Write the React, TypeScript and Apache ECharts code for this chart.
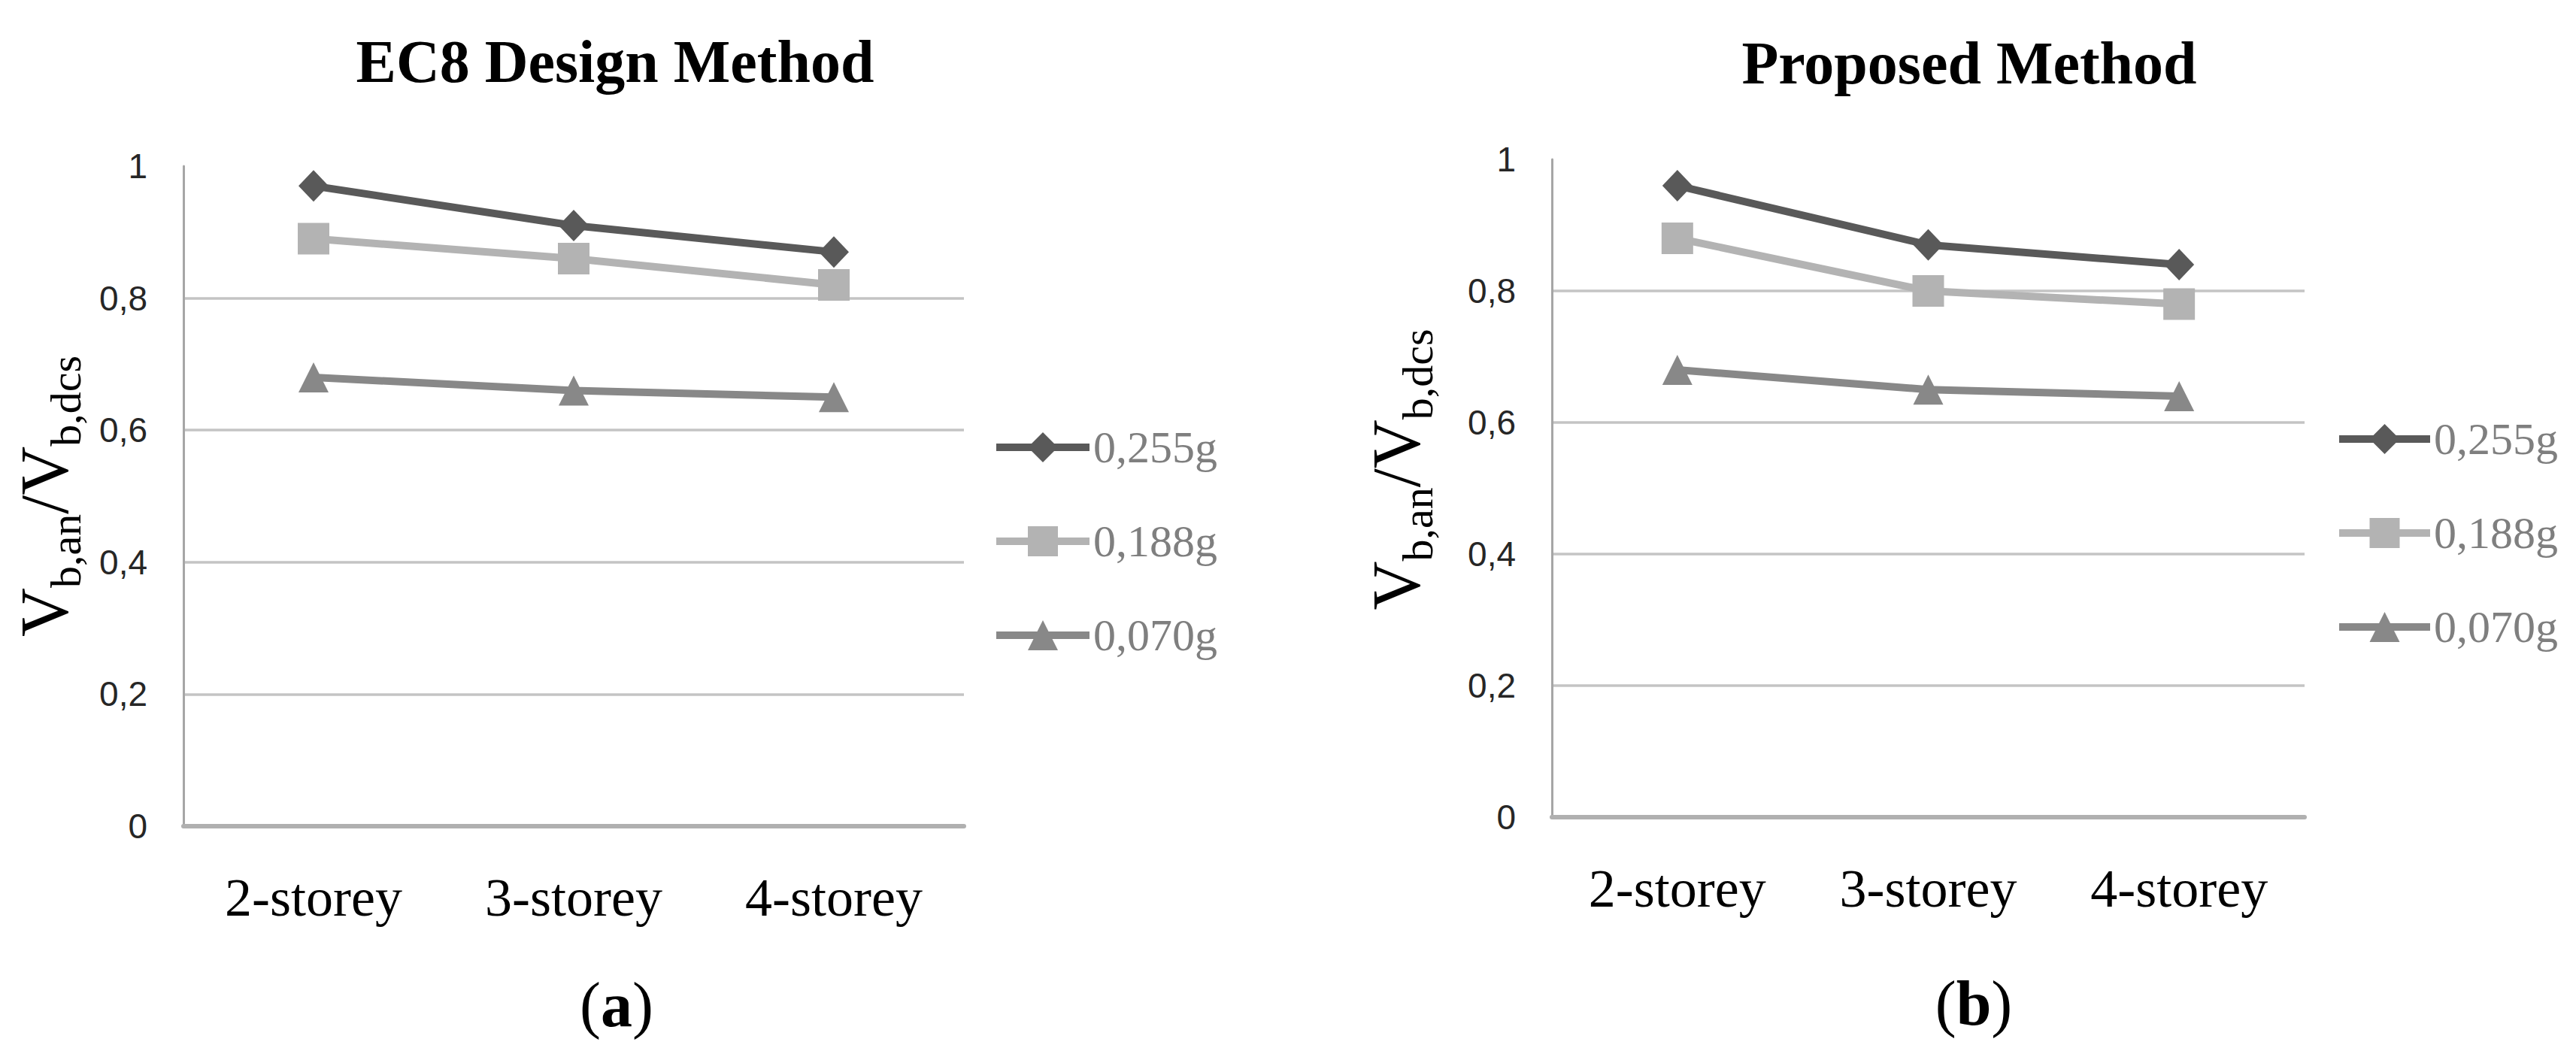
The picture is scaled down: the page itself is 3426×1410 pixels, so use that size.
import React, { useEffect, useRef } from 'react';
import * as echarts from 'echarts';

const categories = ['2-storey', '3-storey', '4-storey'];
const seriesNames = ['0,255g', '0,188g', '0,070g'];
const ec8_255 = [0.97, 0.91, 0.87];
const ec8_188 = [0.89, 0.86, 0.82];
const ec8_070 = [0.68, 0.66, 0.65];
const prop_255 = [0.96, 0.87, 0.84];
const prop_188 = [0.88, 0.8, 0.78];
const prop_070 = [0.68, 0.65, 0.64];
const yTickValues = [0, 0.2, 0.4, 0.6, 0.8, 1];
const yTickLabels = ['0', '0,2', '0,4', '0,6', '0,8', '1'];
const panelTitles = ['EC8 Design Method', 'Proposed Method'];
const panelTags = ['a', 'b'];

const colors = ['#595959', '#b3b3b3', '#888888'];
const symbols = ['diamond', 'rect', 'triangle'];
const symbolSizes: any[] = [[40, 42], 42, [40, 40]];

const fmtTick = (v: number) => {
  const i = yTickValues.findIndex((t) => Math.abs(t - v) < 1e-6);
  return i >= 0 ? yTickLabels[i] : String(v);
};

const nameRich = {
  v: { fontSize: 90, fontFamily: 'Liberation Serif', color: '#000', verticalAlign: 'bottom', padding: [0, 0, 12, 0] },
  s: { fontSize: 58, fontFamily: 'Liberation Serif', color: '#000', verticalAlign: 'bottom' },
};

function makeX(gi: number) {
  return {
    type: 'category',
    gridIndex: gi,
    data: categories,
    boundaryGap: true,
    axisLine: { show: true, lineStyle: { color: '#b0b0b0', width: 6 } },
    axisTick: { show: false },
    splitLine: { show: false },
    axisLabel: { fontFamily: 'Liberation Serif', fontSize: 72, color: '#000', margin: 59 },
  };
}

function makeY(gi: number, gap: number, pad: number[]) {
  return {
    type: 'value',
    gridIndex: gi,
    min: 0,
    max: 1,
    interval: 0.2,
    axisLine: { show: true, lineStyle: { color: '#a6a6a6', width: 3 } },
    axisTick: { show: false },
    splitLine: { show: true, showMaxLine: false, lineStyle: { color: '#c4c4c4', width: 3.5 } },
    axisLabel: { fontFamily: 'Liberation Sans', fontSize: 46, color: '#262626', margin: 48, formatter: fmtTick },
    name: '{v|V}{s|b,an}{v|/V}{s|b,dcs}',
    nameLocation: 'middle',
    nameRotate: 90,
    nameGap: gap,
    nameTextStyle: { rich: nameRich, padding: pad },
  };
}

function makeSeries(gi: number, values: number[][]) {
  return values.map((vals, k) => ({
    type: 'line',
    name: seriesNames[k],
    xAxisIndex: gi,
    yAxisIndex: gi,
    data: vals,
    symbol: symbols[k],
    symbolSize: symbolSizes[k],
    showAllSymbol: true,
    lineStyle: { color: colors[k], width: 10 },
    itemStyle: { color: colors[k] },
    z: 10 - k,
  }));
}

function makeLegend(left: number, top: number, w: number) {
  return {
    data: seriesNames,
    left,
    top,
    orient: 'vertical',
    itemWidth: w,
    itemHeight: 50,
    itemGap: 65,
    selectedMode: false,
    lineStyle: { width: 10 },
    textStyle: { fontFamily: 'Liberation Serif', fontSize: 60, color: '#7f7f7f' },
  };
}

function titleText(text: string, x: number, y: number) {
  return {
    type: 'text',
    x,
    y,
    style: {
      text,
      fontSize: 80,
      fontWeight: 'bold',
      fontFamily: 'Liberation Serif',
      fill: '#000',
      align: 'center',
      verticalAlign: 'middle',
      textAlign: 'center',
      textVerticalAlign: 'middle',
    },
  };
}

function tagText(tag: string, x: number, y: number) {
  return {
    type: 'text',
    x,
    y,
    style: {
      text: '{p|(}{b|' + tag + '}{p|)}',
      align: 'center',
      verticalAlign: 'middle',
      textAlign: 'center',
      textVerticalAlign: 'middle',
      rich: {
        p: { fontSize: 84, fontFamily: 'Liberation Serif', fill: '#000', color: '#000' },
        b: { fontSize: 84, fontFamily: 'Liberation Serif', fontWeight: 'bold', fill: '#000', color: '#000' },
      },
    },
  };
}

export default function App() {
  const ref = useRef<HTMLDivElement>(null);
  useEffect(() => {
    const chart = echarts.init(ref.current!, null, { renderer: 'svg' });
    const option: any = {
      animation: false,
      backgroundColor: '#ffffff',
      grid: [
        { left: 244, top: 221, width: 1038, height: 878 },
        { left: 2064, top: 212, width: 1001, height: 875 },
      ],
      xAxis: [makeX(0), makeX(1)],
      yAxis: [makeY(0, 128, [0, 0, 0, 0]), makeY(1, 150, [0, 0, 0, 50])],
      legend: [makeLegend(1315, 560, 124), makeLegend(3101, 549, 121)],
      series: [
        ...makeSeries(0, [ec8_255, ec8_188, ec8_070]),
        ...makeSeries(1, [prop_255, prop_188, prop_070]),
      ],
      graphic: [
        titleText(panelTitles[0], 818, 82),
        titleText(panelTitles[1], 2619, 84),
        tagText(panelTags[0], 820, 1336),
        tagText(panelTags[1], 2625, 1334),
      ],
    };
    chart.setOption(option);
    return () => chart.dispose();
  }, []);
  return (
    <div
      ref={ref}
      style={{ position: 'absolute', left: 0, top: 0, width: 3426, height: 1410, background: '#fff' }}
    />
  );
}
